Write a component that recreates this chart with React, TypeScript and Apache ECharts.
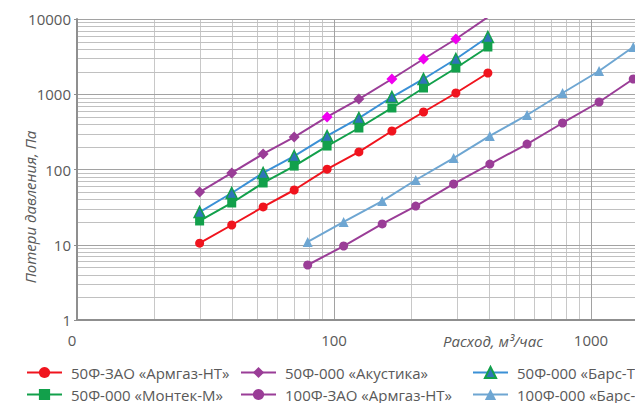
import React, { useEffect, useRef } from "react";
import * as echarts from "echarts";

// Flow, m³/h
const flow50 = [30, 40, 53, 70, 94, 125, 168, 223, 298, 397];
const flow100 = [79, 109, 154, 208, 292, 404, 564, 775, 1075, 1460];

// Pressure losses, Pa
const armgaz50 = [10.5, 18.3, 31.8, 53.4, 101, 171, 325, 581, 1039, 1916];
const montek50 = [20.7, 35.9, 66.2, 111, 205, 356, 657, 1211, 2233, 4245];
const bars50 = [27.2, 48.7, 89.9, 151, 279, 483, 919, 1595, 2940, 5766];
const akustika50 = [50.2, 89.9, 161, 270, 499, 864, 1595, 2940, 5422, 10600];
const armgaz100 = [5.38, 9.62, 18.9, 32.7, 64.2, 118, 218, 415, 789, 1595];
const bars100 = [10.9, 20.1, 38.1, 72.5, 142, 279, 530, 1039, 2037, 4245];

// points of «Акустика» drawn in a brighter magenta
const akustikaHighlighted = [4, 6, 7, 8];

const seriesNames = [
  "50Ф-ЗАО «Армгаз-НТ»",
  "50Ф-000 «Монтек-М»",
  "50Ф-000 «Акустика»",
  "100Ф-ЗАО «Армгаз-НТ»",
  "50Ф-000 «Барс-Т»",
  "100Ф-000 «Барс-Т»",
];

const yTitle = "Потери давления, Па";
const xTitle = "Расход, м³/час";

// minor grid (log decades subdivided 2..9)
const minorMultipliers = [2, 3, 4, 5, 6, 7, 8, 9];
const xDecades = [10, 100, 1000];
const yDecades = [1, 10, 100, 1000];
const X_MIN = 10;
const X_MAX = 10000;
const Y_MIN = 1;
const Y_MAX = 10000;

const FONT = "'Open Sans', sans-serif";
const TXT = "#595959";

function pairs(xs: number[], ys: number[]) {
  return xs.map((x, i) => [x, ys[i]]);
}

export default function App() {
  const ref = useRef<HTMLDivElement>(null);
  useEffect(() => {
    if (!ref.current) return;
    const chart = echarts.init(ref.current, null, { renderer: "svg" });
    const purple = "#9a3d97";
    const common = {
      type: "line",
      clip: true,
      z: 3,
      lineStyle: { width: 2 },
      emphasis: { disabled: true },
    };
    const legendBase = {
      orient: "vertical",
      top: 365,
      itemGap: 7,
      itemWidth: 35,
      itemHeight: 14,
      padding: 0,
      textStyle: { fontFamily: FONT, fontSize: 15, color: TXT, padding: [0, 0, 0, 4] },
    };
    const titles = [
      {
        type: "text",
        x: 30,
        y: 207,
        rotation: Math.PI / 2,
        z: 5,
        style: {
          text: yTitle,
          fontFamily: FONT,
          fontSize: 15,
          fontStyle: "italic",
          fill: TXT,
          align: "center",
          verticalAlign: "middle",
        },
      },
      {
        type: "text",
        x: 493,
        y: 341,
        z: 5,
        style: {
          text: xTitle,
          fontFamily: FONT,
          fontSize: 15,
          fontStyle: "italic",
          fill: TXT,
          align: "center",
          verticalAlign: "middle",
        },
      },
    ];

    chart.setOption({
      animation: false,
      grid: { left: 77, top: 19, width: 771, height: 301 },
      xAxis: {
        type: "log",
        logBase: 10,
        min: X_MIN,
        max: X_MAX,
        z: 2,
        axisLine: { show: true, lineStyle: { color: "#8f8f8f", width: 2 } },
        axisTick: { show: false },
        axisLabel: {
          fontFamily: FONT,
          fontSize: 15,
          color: TXT,
          margin: 12,
          formatter: (v: number) => (v === 10 ? "{z|0}" : String(v)),
          rich: { z: { fontFamily: FONT, fontSize: 15, color: TXT, padding: [0, 10, 0, 0] } },
        },
        splitLine: { show: true, lineStyle: { color: "#a2a2a2", width: 1 } },
      },
      yAxis: {
        type: "log",
        logBase: 10,
        min: Y_MIN,
        max: Y_MAX,
        z: 2,
        axisLine: { show: true, lineStyle: { color: "#8f8f8f", width: 2 } },
        axisTick: { show: true, length: 3, lineStyle: { color: "#8f8f8f" } },
        axisLabel: {
          fontFamily: FONT,
          fontSize: 15,
          color: TXT,
          margin: 6,
          formatter: (v: number) => String(v),
        },
        splitLine: { show: true, lineStyle: { color: "#a2a2a2", width: 1 } },
      },
      legend: [
        { ...legendBase, left: 26, data: [seriesNames[0], seriesNames[1]] },
        { ...legendBase, left: 240, data: [seriesNames[2], seriesNames[3]] },
        { ...legendBase, left: 472, data: [seriesNames[4], seriesNames[5]] },
      ],
      graphic: titles,
      series: [
        {
          ...common,
          name: seriesNames[0],
          data: pairs(flow50, armgaz50),
          symbol: "circle",
          symbolSize: 9,
          itemStyle: { color: "#f0141e" },
          lineStyle: { width: 2, color: "#f0141e" },
        },
        {
          ...common,
          name: seriesNames[1],
          data: pairs(flow50, montek50),
          symbol: "rect",
          symbolSize: 9,
          itemStyle: { color: "#12a04b" },
          lineStyle: { width: 2, color: "#12a04b" },
        },
        {
          ...common,
          name: seriesNames[2],
          data: pairs(flow50, akustika50).map((p, i) =>
            akustikaHighlighted.includes(i)
              ? { value: p, itemStyle: { color: "#f000f0" } }
              : { value: p }
          ),
          symbol: "diamond",
          symbolSize: 11,
          itemStyle: { color: purple },
          lineStyle: { width: 2, color: purple },
        },
        {
          ...common,
          name: seriesNames[3],
          data: pairs(flow100, armgaz100),
          symbol: "circle",
          symbolSize: 9,
          itemStyle: { color: purple },
          lineStyle: { width: 2, color: purple },
        },
        {
          ...common,
          name: seriesNames[4],
          data: pairs(flow50, bars50),
          symbol: "triangle",
          symbolSize: 11,
          itemStyle: { color: "#2f74b8", borderColor: "#12a04b", borderWidth: 1.5 },
          lineStyle: { width: 2, color: "#3a90d6" },
        },
        {
          ...common,
          name: seriesNames[5],
          data: pairs(flow100, bars100),
          symbol: "triangle",
          symbolSize: 10,
          itemStyle: { color: "#6ea6d2" },
          lineStyle: { width: 2, color: "#6ea6d2" },
        },
      ],
    });

    // minor grid lines, positioned through the chart's own log scales
    const lines: any[] = [];
    try {
      xDecades.forEach((d) =>
        minorMultipliers.forEach((m) => {
          const a = chart.convertToPixel({ gridIndex: 0 }, [d * m, Y_MIN]) as number[];
          const b = chart.convertToPixel({ gridIndex: 0 }, [d * m, Y_MAX]) as number[];
          if (a && b) {
            const x = Math.round(a[0]) + 0.5;
            lines.push({
              type: "line",
              silent: true,
              z: 1,
              shape: { x1: x, y1: a[1], x2: x, y2: b[1] },
              style: { stroke: "#c8c8c8", lineWidth: 1 },
            });
          }
        })
      );
      yDecades.forEach((d) =>
        minorMultipliers.forEach((m) => {
          const a = chart.convertToPixel({ gridIndex: 0 }, [X_MIN, d * m]) as number[];
          const b = chart.convertToPixel({ gridIndex: 0 }, [X_MAX, d * m]) as number[];
          if (a && b) {
            const y = Math.round(a[1]) + 0.5;
            lines.push({
              type: "line",
              silent: true,
              z: 1,
              shape: { x1: a[0], y1: y, x2: b[0], y2: y },
              style: { stroke: "#c0c0c0", lineWidth: 1 },
            });
          }
        })
      );
    } catch (e) {
      // leave the chart without the minor grid if conversion fails
    }
    if (lines.length) {
      chart.setOption({ graphic: [...titles, ...lines] });
    }
    return () => chart.dispose();
  }, []);
  return (
    <div
      style={{
        position: "absolute",
        left: 0,
        top: 0,
        width: 635,
        height: 403,
        overflow: "hidden",
        background: "#fff",
      }}
    >
      <div ref={ref} style={{ width: 900, height: 403 }} />
    </div>
  );
}
